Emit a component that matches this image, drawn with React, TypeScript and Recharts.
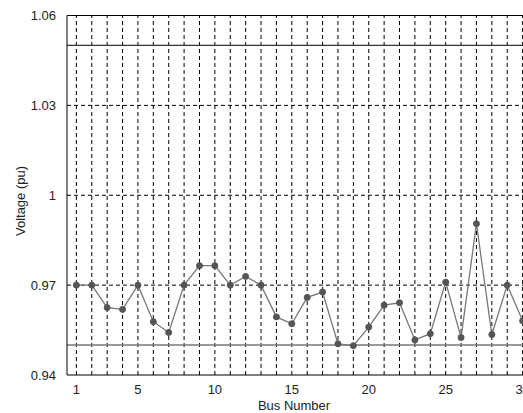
import React from "react";
import {
  LineChart,
  Line,
  XAxis,
  YAxis,
  ReferenceLine,
} from "recharts";

// Bus voltage profile (pu) for the 30-bus system
const buses = Array.from({ length: 30 }, (_, i) => i + 1);
const voltages = [
  0.97, 0.97, 0.9625, 0.9619, 0.97, 0.9578, 0.9542, 0.97, 0.9765, 0.9765,
  0.97, 0.9729, 0.97, 0.9594, 0.9571, 0.9659, 0.9677, 0.9504, 0.9498, 0.956,
  0.9633, 0.9641, 0.9517, 0.9538, 0.971, 0.9525, 0.9905, 0.9535, 0.97, 0.9581,
];
const xTicks = [1, 5, 10, 15, 20, 25, 30];
const yTicks = [0.94, 0.97, 1, 1.03, 1.06];
const yGrid = [0.97, 1, 1.03];
const upperLimit = 1.05;
const lowerLimit = 0.95;

const data = buses.map((bus, i) => ({ bus, v: voltages[i] }));

const font = "Liberation Sans, Arial, sans-serif";

export default function App() {
  return (
    <div
      style={{
        position: "fixed",
        left: 0,
        top: 0,
        width: 523,
        height: 413,
        overflow: "hidden",
        background: "#fff",
      }}
    >
      <LineChart
        width={560}
        height={413}
        data={data}
        margin={{ top: 15.5, right: 28, left: 0, bottom: 0 }}
        style={{ fontFamily: font }}
      >
        {buses.map((b) => (
          <ReferenceLine
            key={`vx${b}`}
            x={b}
            stroke="#000"
            strokeDasharray="4 3"
            strokeWidth={1}
          />
        ))}
        {yGrid.map((y) => (
          <ReferenceLine
            key={`hy${y}`}
            y={y}
            stroke="#000"
            strokeDasharray="4 3"
            strokeWidth={1}
          />
        ))}
        <ReferenceLine y={1.06} stroke="#000" strokeWidth={1} />
        <ReferenceLine y={upperLimit} stroke="#333" strokeWidth={1.3} />
        <ReferenceLine y={lowerLimit} stroke="#777" strokeWidth={1.5} />
        <XAxis
          dataKey="bus"
          type="number"
          domain={[0.39, 30.61]}
          ticks={xTicks}
          allowDataOverflow
          height={38}
          stroke="#000"
          tickLine={false}
          tick={{ fill: "#222", fontSize: 13 }}
          tickMargin={4}
          label={{
            content: () => (
              <text
                x={294}
                y={405}
                textAnchor="middle"
                dominantBaseline="central"
                fill="#222"
                fontSize={13}
              >
                Bus Number
              </text>
            ),
          }}
        />
        <YAxis
          type="number"
          domain={[0.94, 1.06]}
          ticks={yTicks}
          allowDataOverflow
          width={67}
          stroke="#000"
          tickLine={false}
          tick={{ fill: "#222", fontSize: 13 }}
          tickMargin={5}
          tickFormatter={(v) => String(Number(v.toFixed(2)))}
          label={{
            content: () => (
              <text
                x={20}
                y={201}
                transform="rotate(-90 20 201)"
                textAnchor="middle"
                dominantBaseline="central"
                fill="#222"
                fontSize={13}
              >
                Voltage (pu)
              </text>
            ),
          }}
        />
        <Line
          dataKey="v"
          type="linear"
          stroke="#777"
          strokeWidth={1.3}
          dot={{ r: 3, fill: "#555", stroke: "#555", strokeWidth: 1 }}
          isAnimationActive={false}
        />
      </LineChart>
    </div>
  );
}
